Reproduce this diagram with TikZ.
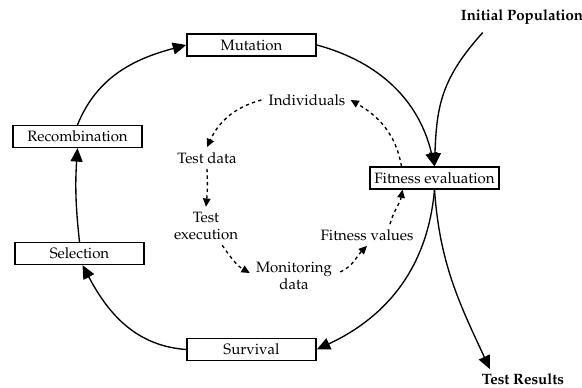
\documentclass[tikz,border=0pt]{standalone}
\usepackage[T1]{fontenc}
\usepackage{mathpazo}
\usetikzlibrary{arrows.meta,calc}

\begin{document}
\begin{tikzpicture}[x=0.6667pt, y=0.6667pt,
        stage/.style={draw, line width=1pt, minimum width=86pt, minimum height=14.5pt, inner sep=1pt},
        info/.style={align=center, font=\fontsize{10}{11.5}\selectfont},
        flow/.style={line width=0.9pt, -{Triangle[length=9pt,width=8pt]}},
        data/.style={line width=0.9pt, dash pattern=on 2.2pt off 2.2pt, -{Triangle[length=5.5pt,width=5pt]}}]
            \useasboundingbox (0, 0) rectangle (582, -388);
            %\draw[lightgray] (0, 0) grid[step=50] (582, -388);
            \node[stage] (mut) at (251.5, -45) {Mutation};
            \node[stage] (rec) at (77.5, -136.5) {Recombination};
            \node[stage] (sel) at (79.5, -253.5) {Selection};
            \node[stage] (surv) at (251.5, -349.5) {Survival};
            \node[stage] (fit) at (434.5, -178) {Fitness evaluation};
            \node[info, font=\bfseries] (init) at (522, -17) {Initial Population};
            \node[info, font=\bfseries] (res) at (523, -379) {Test Results};

            \node[info] (ind) at (307, -100) {Individuals};
            \node[info] (tdata) at (207, -158) {Test data};
            \node[info] (texec) at (206, -226) {Test\\execution};
            \node[info] (mon) at (294, -276) {Monitoring\\data};
            \node[info] (fval) at (367, -235) {Fitness values};

            % outer loop
            \draw[flow] (rec.north) to[out=68, in=195] (mut.west);
            \draw[flow] (mut.east) to[out=-15, in=103] (fit.north);
            \draw[flow] ($(init.south west)+(27, -3)$) to[out=-132, in=88, looseness=1.1] (fit.north);
            \draw[flow] (fit.south) to[out=-95, in=25] (surv.east);
            \draw[flow] (fit.south) to[out=-86, in=115] ($(res.north)+(-33, -1)$);
            \draw[flow] (surv.west) to[out=176, in=-62] ($(sel.south)+(3, 0)$);
            \draw[flow] (sel.north) to[bend left=5] (rec.south);

            % inner loop
            \draw[data] ($(ind.west)+(-2, 0)$) to[out=195, in=65] (tdata.north);
            \draw[data] (tdata.south) to[bend left=4] (texec.north);
            \draw[data] (texec.-50) to[out=-55, in=150] ($(mon.west)+(-1, 3)$);
            \draw[data] ($(mon.east)+(3, 4)$) to[out=25, in=-135] (fval.south);
            \draw[data] ($(fval.north)+(23, 0)$) to[out=75, in=-100] ($(fit.south)+(-32, 0)$);
            \draw[data] ($(fit.north)+(-33, 0)$) to[out=100, in=-30] (ind.east);
        \end{tikzpicture}
\end{document}
